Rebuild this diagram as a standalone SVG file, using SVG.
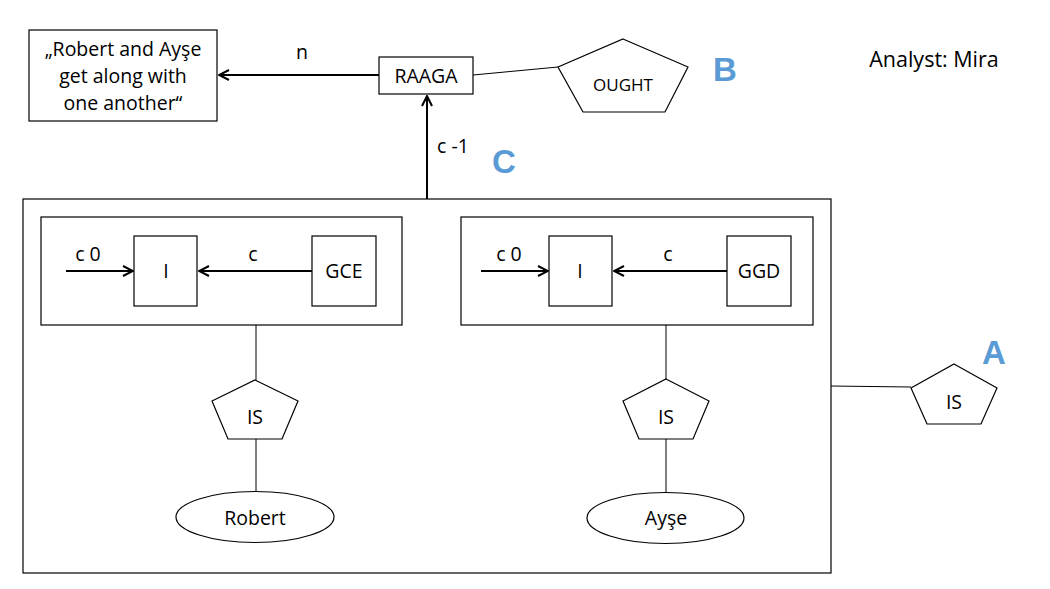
<svg xmlns="http://www.w3.org/2000/svg" width="1050" height="589" viewBox="0 0 1050 589">
<defs>
<marker id="arr" viewBox="0 0 12 12" refX="11" refY="6" markerWidth="12" markerHeight="12" markerUnits="userSpaceOnUse" orient="auto">
<path d="M1,1 L11,6 L1,11" fill="none" stroke="#000" stroke-width="2"/>
</marker>
<style>
.box{fill:#fff;stroke:#000;stroke-width:1.2}
.frame{fill:none;stroke:#000;stroke-width:1.2}
.ln{fill:none;stroke:#000;stroke-width:1}
.ar{fill:none;stroke:#000;stroke-width:2;marker-end:url(#arr)}
text{font-family:"Open Sans","Liberation Sans",sans-serif;font-size:19.5px;fill:#000;text-anchor:middle}
.big{font-family:"Liberation Sans","Open Sans",sans-serif;font-weight:bold;font-size:33px;fill:#5B9BD5;text-anchor:start}
</style>
</defs>
<rect width="1050" height="589" fill="#fff"/>
<g id="outer">
<rect class="frame" x="23" y="199" width="808" height="374"/>
</g>
<g id="leftgroup">
<rect class="frame" x="41" y="217" width="361" height="108"/>
</g>
<g id="rightgroup">
<rect class="frame" x="461" y="217" width="352" height="108"/>
</g>
<g id="quote">
<rect class="box" x="29" y="30" width="188" height="91"/>
<text x="123" y="56">„Robert and Ayşe</text>
<text x="123" y="83">get along with</text>
<text x="123" y="110">one another“</text>
</g>
<g id="raaga">
<rect class="box" x="379" y="57" width="94" height="37"/>
<text x="426" y="83">RAAGA</text>
</g>
<g id="ought">
<polygon class="box" points="623,39 688,67 665,112 583,112 558,67"/>
<text x="623" y="91" style="font-size:17px">OUGHT</text>
</g>
<g id="labelB"><text class="big" x="713" y="81">B</text></g>
<g id="labelC"><text class="big" x="492" y="173">C</text></g>
<g id="labelA"><text class="big" x="982" y="364">A</text></g>
<g id="analyst"><text x="934" y="67" style="font-size:21.5px">Analyst: Mira</text></g>
<g id="I1">
<rect class="box" x="134" y="236" width="63" height="70"/>
<text x="166" y="278">I</text>
</g>
<g id="gce">
<rect class="box" x="312" y="236" width="64" height="70"/>
<text x="344" y="278">GCE</text>
</g>
<g id="I2">
<rect class="box" x="549" y="236" width="63" height="70"/>
<text x="580" y="278">I</text>
</g>
<g id="ggd">
<rect class="box" x="727" y="236" width="64" height="70"/>
<text x="759" y="278">GGD</text>
</g>
<g id="is1">
<polygon class="box" points="255,380 298,401 282,439 228,439 212,401"/>
<text x="255" y="424">IS</text>
</g>
<g id="is2">
<polygon class="box" points="666,379 709,401 693,439 639,439 623,401"/>
<text x="666" y="424">IS</text>
</g>
<g id="isA">
<polygon class="box" points="954,364 997,388 981,424 927,424 911,388"/>
<text x="954" y="409">IS</text>
</g>
<g id="robert">
<ellipse class="box" cx="255" cy="517" rx="79" ry="25.5"/>
<text x="255" y="525">Robert</text>
</g>
<g id="ayse">
<ellipse class="box" cx="665.5" cy="518" rx="78.5" ry="25.5"/>
<text x="666" y="525">Ayşe</text>
</g>
<g id="connectors">
<line class="ar" x1="379" y1="75" x2="219" y2="75"/>
<line class="ln" x1="473" y1="75" x2="558" y2="67"/>
<line class="ar" x1="427" y1="199" x2="427" y2="96"/>
<line class="ar" x1="66" y1="271" x2="133" y2="271"/>
<line class="ar" x1="312" y1="271" x2="199" y2="271"/>
<line class="ar" x1="481" y1="271" x2="548" y2="271"/>
<line class="ar" x1="727" y1="271" x2="614" y2="271"/>
<line class="ln" x1="256" y1="325" x2="256" y2="380"/>
<line class="ln" x1="256" y1="439" x2="256" y2="492"/>
<line class="ln" x1="666" y1="325" x2="666" y2="379"/>
<line class="ln" x1="666" y1="439" x2="666" y2="493"/>
<line class="ln" x1="831" y1="386" x2="911" y2="387"/>
<text x="302" y="59">n</text>
<text x="453" y="153">c -1</text>
<text x="88" y="261">c 0</text>
<text x="253" y="261">c</text>
<text x="509" y="261">c 0</text>
<text x="668" y="261">c</text>
</g>
</svg>
